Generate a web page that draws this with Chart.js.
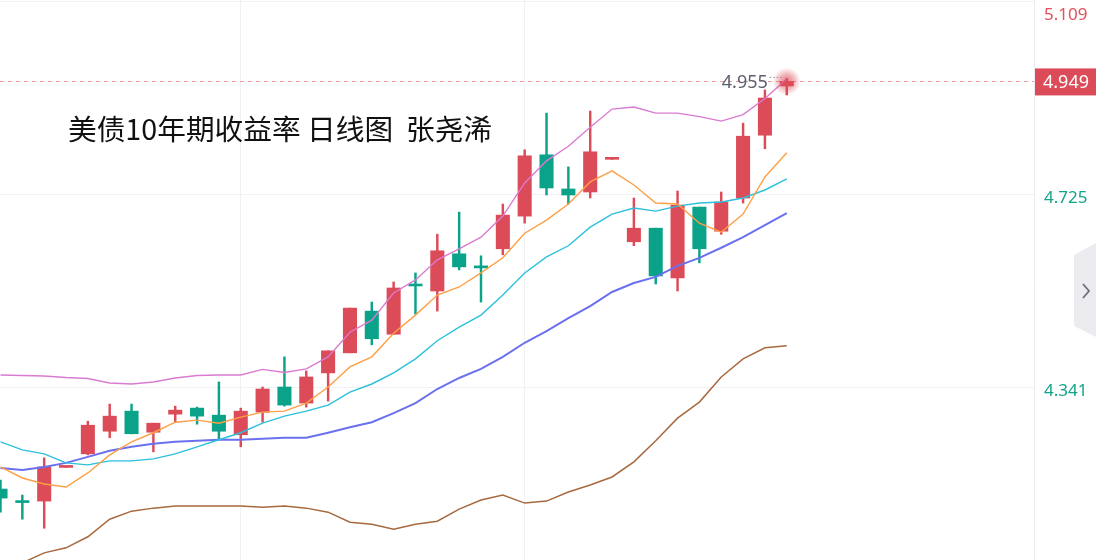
<!DOCTYPE html>
<html>
<head>
<meta charset="utf-8">
<script src="https://cdn.jsdelivr.net/npm/chart.js@4.4.1/dist/chart.umd.min.js"></script>
<style>
  html, body { margin:0; padding:0; background:#ffffff; }
  #wrap { width:1096px; height:560px; position:relative; }
</style>
</head>
<body>
<div id="wrap"><canvas id="c"></canvas></div>
<script>
// ---- data (daily candles, US 10Y yield) ----
const opens  = [4.138,4.113,4.114,4.181,4.208,4.253,4.293,4.251,4.287,4.299,4.285,4.246,4.291,4.341,4.309,4.369,4.409,4.492,4.446,4.544,4.532,4.606,4.582,4.616,4.681,4.803,4.735,4.729,4.794,4.630,4.657,4.558,4.699,4.651,4.717,4.842,4.940];
const closes = [4.120,4.111,4.182,4.183,4.265,4.283,4.248,4.269,4.295,4.283,4.253,4.293,4.337,4.305,4.361,4.413,4.498,4.437,4.538,4.542,4.612,4.580,4.578,4.683,4.801,4.737,4.723,4.809,4.796,4.657,4.562,4.703,4.616,4.709,4.840,4.916,4.949];
const highs  = [4.156,4.126,4.200,4.183,4.273,4.307,4.307,4.269,4.303,4.301,4.351,4.299,4.341,4.401,4.373,4.413,4.498,4.510,4.550,4.568,4.645,4.689,4.602,4.705,4.813,4.886,4.779,4.890,4.796,4.717,4.657,4.731,4.699,4.729,4.866,4.932,4.955];
const lows   = [4.092,4.078,4.060,4.181,4.206,4.240,4.248,4.212,4.271,4.267,4.238,4.222,4.271,4.303,4.301,4.313,4.409,4.425,4.446,4.486,4.492,4.574,4.510,4.604,4.667,4.723,4.705,4.717,4.794,4.622,4.546,4.532,4.588,4.645,4.707,4.815,4.922];

const ma5    = [4.182,4.160,4.148,4.142,4.170,4.206,4.232,4.250,4.271,4.275,4.269,4.281,4.291,4.293,4.309,4.341,4.381,4.401,4.448,4.484,4.524,4.540,4.568,4.598,4.647,4.673,4.705,4.749,4.771,4.743,4.707,4.705,4.667,4.649,4.685,4.759,4.807];
const ma10   = [4.232,4.216,4.208,4.190,4.186,4.194,4.194,4.198,4.208,4.222,4.236,4.250,4.269,4.283,4.293,4.305,4.331,4.347,4.369,4.397,4.433,4.460,4.484,4.524,4.568,4.600,4.622,4.659,4.685,4.697,4.691,4.701,4.707,4.709,4.717,4.733,4.755];
const bollUp = [4.365,4.364,4.363,4.360,4.358,4.349,4.347,4.351,4.359,4.364,4.365,4.365,4.376,4.370,4.377,4.401,4.450,4.474,4.528,4.554,4.594,4.616,4.639,4.681,4.747,4.791,4.820,4.858,4.894,4.898,4.886,4.886,4.879,4.870,4.883,4.915,4.954];
const bollMid= [4.180,4.176,4.182,4.190,4.202,4.214,4.222,4.228,4.232,4.234,4.236,4.236,4.238,4.240,4.240,4.250,4.261,4.271,4.289,4.309,4.337,4.359,4.377,4.401,4.429,4.452,4.478,4.502,4.530,4.548,4.560,4.582,4.598,4.618,4.639,4.663,4.687];
const bollLow= [3.985,3.991,4.011,4.021,4.043,4.078,4.094,4.100,4.104,4.104,4.104,4.104,4.102,4.104,4.100,4.092,4.072,4.068,4.058,4.068,4.074,4.098,4.116,4.126,4.110,4.114,4.132,4.146,4.162,4.192,4.234,4.279,4.311,4.361,4.397,4.419,4.423];

const yTickLabels = [4.341, 4.725, 5.109];
const titleText = '美债10年期收益率 日线图  张尧浠';

// ---- styling ----
const UP = '#dc4b58', DOWN = '#0aa389';
const candleColors = opens.map((o,i)=> closes[i] >= o ? UP : DOWN);
const pts = arr => arr.map((v,i)=>({x:i, y:v}));

const lineDs = (data, color, w) => ({
  type:'line', data: pts(data), borderColor: color, borderWidth: w,
  pointRadius: 0, pointHoverRadius: 0, tension: 0, fill: false, order: 1
});

const overlay = {
  id: 'overlay',
  beforeDatasetsDraw(chart) {
    const {ctx, chartArea, scales:{y}} = chart;
    const last = closes.length - 1;
    const py = Math.round(y.getPixelForValue(closes[last])) + 0.5;
    ctx.save();
    ctx.strokeStyle = '#f19aa2';
    ctx.lineWidth = 1;
    ctx.setLineDash([4,4]);
    ctx.beginPath();
    ctx.moveTo(chartArea.left, py);
    ctx.lineTo(chartArea.right, py);
    ctx.stroke();
    ctx.restore();
  },
  afterDatasetsDraw(chart) {
    const {ctx, chartArea, scales:{x,y}} = chart;
    const last = closes.length - 1;
    ctx.save();
    // title
    ctx.font = '28.7px "Noto Sans CJK SC"';
    ctx.fillStyle = '#111111';
    ctx.textBaseline = 'middle';
    ctx.textAlign = 'left';
    ctx.fillText(titleText, 68, 129);

    // glow at last close
    const gx = x.getPixelForValue(last), gy = y.getPixelForValue(closes[last]);
    const g = ctx.createRadialGradient(gx, gy, 0, gx, gy, 14);
    g.addColorStop(0, 'rgba(220,75,88,0.75)');
    g.addColorStop(0.45, 'rgba(220,75,88,0.45)');
    g.addColorStop(1, 'rgba(220,75,88,0)');
    ctx.fillStyle = g;
    ctx.beginPath(); ctx.arc(gx, gy, 14, 0, Math.PI*2); ctx.fill();

    // max high marker
    let mi = 0; highs.forEach((h,i)=>{ if (h > highs[mi]) mi = i; });
    const hx = x.getPixelForValue(mi), hy = y.getPixelForValue(highs[mi]);
    ctx.font = '18px "Noto Sans"';
    ctx.fillStyle = '#5d616d';
    ctx.textAlign = 'right';
    ctx.textBaseline = 'middle';
    ctx.fillText(highs[mi].toFixed(3), hx - 19, hy + 4);
    ctx.strokeStyle = '#8a8d98';
    ctx.lineWidth = 1;
    ctx.setLineDash([1.5,2]);
    ctx.beginPath(); ctx.moveTo(hx - 17, hy - 1); ctx.lineTo(hx - 4, hy - 1); ctx.stroke();
    ctx.restore();
  },
  afterDraw(chart) {
    const {ctx, chartArea, scales:{y}} = chart;
    const last = closes.length - 1;
    const cur = closes[last];
    ctx.save();
    // axis labels
    ctx.font = '17px "Noto Sans"';
    ctx.textAlign = 'left';
    ctx.textBaseline = 'middle';
    yTickLabels.forEach(v => {
      const py = Math.max(y.getPixelForValue(v) + 4, 15);
      ctx.fillStyle = v > cur ? '#e0505d' : '#12a58a';
      ctx.fillText(v.toFixed(3), chartArea.right + 10, py);
    });
    // current price box
    const py = y.getPixelForValue(cur);
    ctx.fillStyle = '#dc4b58';
    ctx.fillRect(chartArea.right + 1, py - 13, 1096 - chartArea.right, 27);
    ctx.fillStyle = '#ffffff';
    ctx.font = '18px "Noto Sans"';
    ctx.fillText(cur.toFixed(3), chartArea.right + 9, py + 1);
    // side button
    ctx.fillStyle = '#ebebf0';
    ctx.beginPath();
    ctx.moveTo(1074, 255); ctx.lineTo(1096, 243); ctx.lineTo(1096, 337); ctx.lineTo(1074, 326);
    ctx.closePath(); ctx.fill();
    ctx.strokeStyle = '#6c6f7b';
    ctx.lineWidth = 1.8;
    ctx.beginPath();
    ctx.moveTo(1083, 284); ctx.lineTo(1089, 291); ctx.lineTo(1083, 298);
    ctx.stroke();
    ctx.restore();
  }
};

new Chart(document.getElementById('c'), {
  type: 'bar',
  data: {
    datasets: [
      lineDs(bollUp,  '#d97bd2', 1.4),
      lineDs(ma5,     '#ff9f45', 1.4),
      lineDs(ma10,    '#2cc0dd', 1.4),
      lineDs(bollMid, '#6a70ee', 2),
      lineDs(bollLow, '#a8693f', 1.5),
      { type:'bar', data: highs.map((h,i)=>({x:i, y:[lows[i], h]})),
        backgroundColor: candleColors, barThickness: 1.8, grouped: false, order: 3 },
      { type:'bar', data: opens.map((o,i)=>({x:i, y:[o, closes[i]]})),
        backgroundColor: candleColors, barThickness: 13.4, minBarLength: 2, grouped: false, order: 2 }
    ]
  },
  options: {
    responsive: true,
    maintainAspectRatio: false,
    animation: false,
    events: [],
    layout: { padding: 0 },
    plugins: { legend: { display:false }, tooltip: { enabled:false }, title: { display:false } },
    scales: {
      x: {
        type: 'linear', min: -0.023, max: 47.32, offset: false,
        afterBuildTicks: s => { s.ticks = [{value:11},{value:24}]; },
        afterFit: s => { s.height = 0; },
        ticks: { display:false },
        grid: { color:'#f0f0f5', lineWidth:1, drawTicks:false, offset:false },
        border: { display:false }
      },
      y: {
        position: 'right', min: 3.9968, max: 5.111,
        afterBuildTicks: s => { s.ticks = yTickLabels.map(v=>({value:v})); },
        afterFit: s => { s.width = 62; },
        ticks: { display:false },
        grid: { color:'#f0f0f5', lineWidth:1, drawTicks:false },
        border: { display:true, color:'#ebebf0', width:1 }
      }
    }
  },
  plugins: [overlay]
});
</script>
</body>
</html>
